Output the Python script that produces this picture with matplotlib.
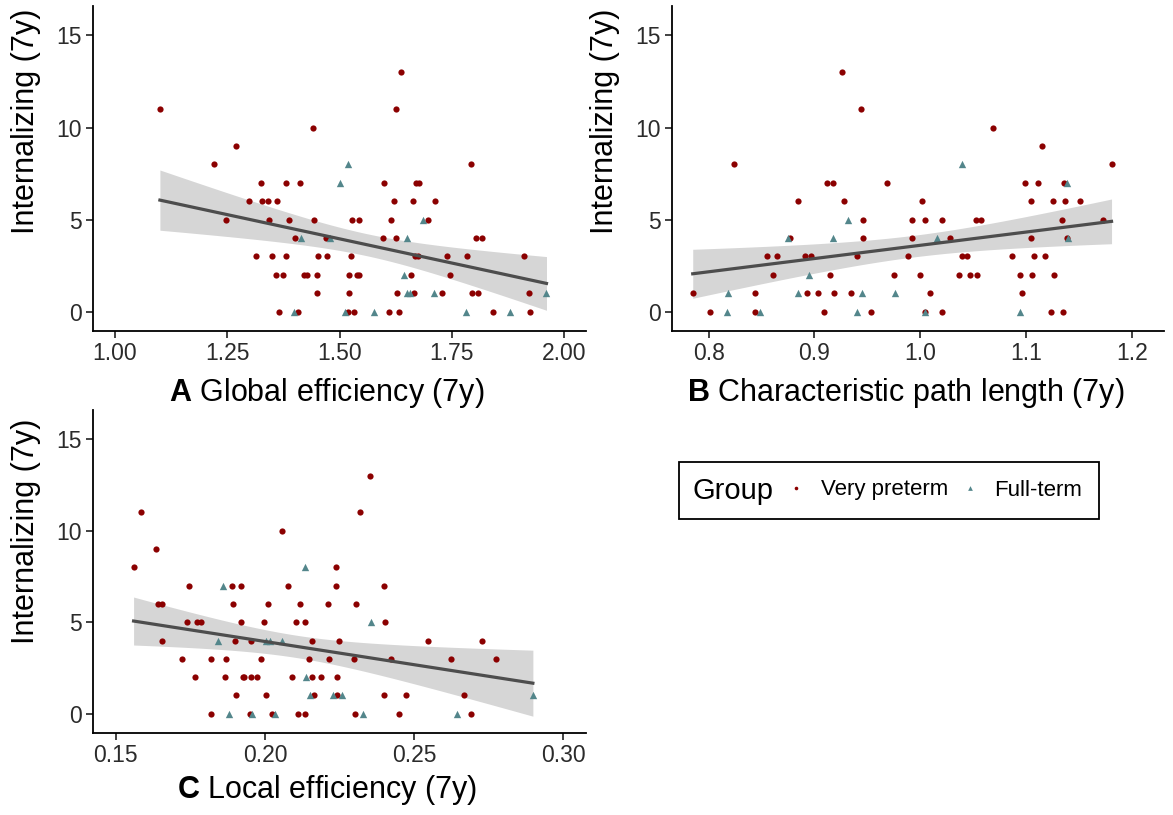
import numpy as np
import matplotlib
matplotlib.use("Agg")
import matplotlib.pyplot as plt
from matplotlib.lines import Line2D
from matplotlib.patches import Rectangle

#########################################
# 1. Data
#########################################

# y values repeat per row, so keep each group as (x, y) lists

# Panel A - Global efficiency
a_vp_x = [1.637,
          1.100, 1.625,
          1.440,
          1.270,
          1.221, 1.793,
          1.325, 1.381, 1.413, 1.600, 1.670, 1.677,
          1.298, 1.328, 1.340, 1.361, 1.622, 1.664, 1.712,
          1.247, 1.342, 1.387, 1.443, 1.527, 1.544, 1.615, 1.698,
          1.400, 1.469, 1.596, 1.625, 1.804, 1.817,
          1.313, 1.349, 1.380, 1.453, 1.473, 1.525, 1.668, 1.674, 1.740, 1.784, 1.911,
          1.359, 1.374, 1.422, 1.428, 1.449, 1.521, 1.538, 1.544, 1.659, 1.745,
          1.450, 1.522, 1.629, 1.665, 1.729, 1.795, 1.809, 1.922,
          1.365, 1.408, 1.518, 1.532, 1.611, 1.633, 1.841, 1.925]
a_vp_y = [13,
          11, 11,
          10,
          9,
          8, 8,
          7, 7, 7, 7, 7, 7,
          6, 6, 6, 6, 6, 6, 6,
          5, 5, 5, 5, 5, 5, 5, 5,
          4, 4, 4, 4, 4, 4,
          3, 3, 3, 3, 3, 3, 3, 3, 3, 3, 3,
          2, 2, 2, 2, 2, 2, 2, 2, 2, 2,
          1, 1, 1, 1, 1, 1, 1, 1,
          0, 0, 0, 0, 0, 0, 0, 0]
a_ft_x = [1.520, 1.501, 1.685, 1.415, 1.478, 1.651, 1.643,
          1.651, 1.657, 1.710, 1.961,
          1.399, 1.513, 1.577, 1.781, 1.879]
a_ft_y = [8, 7, 5, 4, 4, 4, 2,
          1, 1, 1, 1,
          0, 0, 0, 0, 0]

# Panel B - Characteristic path length
b_vp_x = [0.926,
          0.944,
          1.069,
          1.115,
          0.824, 1.181,
          0.912, 0.918, 0.969, 1.099, 1.111, 1.136,
          0.885, 0.928, 1.002, 1.105, 1.126, 1.137, 1.151,
          0.946, 0.992, 1.005, 1.021, 1.053, 1.058, 1.134, 1.173,
          0.877, 0.946, 0.992, 1.028, 1.105, 1.139,
          0.855, 0.865, 0.891, 0.897, 0.940, 0.989, 1.040, 1.044, 1.087, 1.108, 1.118,
          0.861, 0.915, 0.975, 1.000, 1.037, 1.047, 1.054, 1.094, 1.106, 1.127,
          0.785, 0.844, 0.893, 0.903, 0.919, 0.935, 1.009, 1.096,
          0.801, 0.844, 0.909, 0.954, 1.005, 1.021, 1.124, 1.135]
b_vp_y = [13,
          11,
          10,
          9,
          8, 8,
          7, 7, 7, 7, 7, 7,
          6, 6, 6, 6, 6, 6, 6,
          5, 5, 5, 5, 5, 5, 5, 5,
          4, 4, 4, 4, 4, 4,
          3, 3, 3, 3, 3, 3, 3, 3, 3, 3, 3,
          2, 2, 2, 2, 2, 2, 2, 2, 2, 2,
          1, 1, 1, 1, 1, 1, 1, 1,
          0, 0, 0, 0, 0, 0, 0, 0]
b_ft_x = [1.040, 1.139, 0.932, 0.875, 0.918, 1.016, 1.140, 0.895,
          0.818, 0.885, 0.945, 0.976,
          0.817, 0.849, 0.940, 1.005, 1.094]
b_ft_y = [8, 7, 5, 4, 4, 4, 4, 2,
          1, 1, 1, 1,
          0, 0, 0, 0, 0]

# Panel C - Local efficiency
c_vp_x = [0.2351,
          0.1586, 0.2319,
          0.2057,
          0.1634,
          0.1560, 0.2237,
          0.1747, 0.1889, 0.1919, 0.2077, 0.2237, 0.2398,
          0.1643, 0.1656, 0.1893, 0.2010, 0.2116, 0.2210, 0.2306,
          0.1738, 0.1774, 0.1785, 0.1920, 0.1996, 0.2104, 0.2135, 0.2402,
          0.1655, 0.1899, 0.1953, 0.2159, 0.2247, 0.2548, 0.2726,
          0.1722, 0.1819, 0.1869, 0.1987, 0.2149, 0.2214, 0.2299, 0.2423, 0.2624, 0.2774,
          0.1766, 0.1866, 0.1926, 0.1930, 0.1953, 0.1975, 0.2092, 0.2158, 0.2188, 0.2240,
          0.1902, 0.2004, 0.2165, 0.2240, 0.2398, 0.2474, 0.2667,
          0.1819, 0.1949, 0.2025, 0.2112, 0.2135, 0.2303, 0.2450, 0.2691]
c_vp_y = [13,
          11, 11,
          10,
          9,
          8, 8,
          7, 7, 7, 7, 7, 7,
          6, 6, 6, 6, 6, 6, 6,
          5, 5, 5, 5, 5, 5, 5, 5,
          4, 4, 4, 4, 4, 4, 4,
          3, 3, 3, 3, 3, 3, 3, 3, 3, 3,
          2, 2, 2, 2, 2, 2, 2, 2, 2, 2,
          1, 1, 1, 1, 1, 1, 1,
          0, 0, 0, 0, 0, 0, 0, 0]
c_ft_x = [0.2134, 0.1860, 0.2357, 0.1844, 0.2003, 0.2018, 0.2058, 0.2138,
          0.2151, 0.2228, 0.2257, 0.2898,
          0.1879, 0.1956, 0.2035, 0.2328, 0.2643]
c_ft_y = [8, 7, 5, 4, 4, 4, 4, 2,
          1, 1, 1, 1,
          0, 0, 0, 0, 0]

y_ticks = [0, 5, 10, 15]
a_ticks = [1.00, 1.25, 1.50, 1.75, 2.00]
b_ticks = [0.8, 0.9, 1.0, 1.1, 1.2]
c_ticks = [0.15, 0.20, 0.25, 0.30]

group_labels = ["Very preterm", "Full-term"]
vp_color = "#8B0000"
ft_color = "#53868B"

#########################################
# 2. Style
#########################################

plt.rcParams["font.family"] = ["Liberation Sans", "DejaVu Sans"]
plt.rcParams["mathtext.fontset"] = "custom"
plt.rcParams["mathtext.bf"] = "Liberation Sans:bold"
plt.rcParams["mathtext.rm"] = "Liberation Sans"

W, H = 1173, 815
fig = plt.figure(figsize=(W / 100, H / 100), dpi=100)


def px_box(left, right, top, bottom):
    return [left / W, 1 - bottom / H, (right - left) / W, (bottom - top) / H]


#########################################
# 3. Panel helper
#########################################

def panel(box, vx, vy, fx, fy, xlim, xticks, xfmt, letter, xlabel, label_y):
    ax = fig.add_axes(box)
    x_all = np.array(vx + fx, dtype=float)
    y_all = np.array(vy + fy, dtype=float)

    # linear fit with 95% confidence band
    n = len(x_all)
    slope, intercept = np.polyfit(x_all, y_all, 1)
    resid = y_all - (slope * x_all + intercept)
    s = np.sqrt(np.sum(resid ** 2) / (n - 2))
    xbar = x_all.mean()
    sxx = np.sum((x_all - xbar) ** 2)
    xs = np.linspace(x_all.min(), x_all.max(), 100)
    yhat = slope * xs + intercept
    se = s * np.sqrt(1 / n + (xs - xbar) ** 2 / sxx)
    t = 1.99
    ax.fill_between(xs, yhat - t * se, yhat + t * se, color="#999999",
                    alpha=0.4, linewidth=0, zorder=1)

    ax.scatter(vx, vy, s=20, marker="o", color=vp_color, linewidths=0, zorder=3)
    ax.scatter(fx, fy, s=28, marker="^", color=ft_color, linewidths=0, zorder=3)
    ax.plot(xs, yhat, color="#4D4D4D", linewidth=2.3, zorder=4)

    ax.set_xlim(*xlim)
    ax.set_ylim(-1.05, 16.6)
    ax.set_xticks(xticks)
    ax.set_xticklabels([xfmt.format(v) for v in xticks])
    ax.set_yticks(y_ticks)
    for side in ["top", "right"]:
        ax.spines[side].set_visible(False)
    for side in ["left", "bottom"]:
        ax.spines[side].set_linewidth(1.3)
        ax.spines[side].set_color("black")
    ax.tick_params(length=5, width=1.3, color="#333333", labelsize=16.5,
                   labelcolor="#2b2b2b", pad=3)
    ax.set_xlabel(r"$\mathbf{" + letter + "}$" + xlabel, fontsize=22,
                  color="black")
    ax.xaxis.set_label_coords(0.475, label_y, transform=ax.transAxes)
    ax.xaxis.label.set_va("top")
    return ax


ax_a = panel(px_box(93, 586, 6, 331), a_vp_x, a_vp_y, a_ft_x, a_ft_y,
             (0.951, 2.049), a_ticks, "{:.2f}", "A", " Global efficiency (7y)", -0.14)
ax_b = panel(px_box(672, 1164, 6, 331), b_vp_x, b_vp_y, b_ft_x, b_ft_y,
             (0.7654, 1.2306), b_ticks, "{:.1f}", "B", " Characteristic path length (7y)", -0.14)
ax_c = panel(px_box(93, 586, 410, 733), c_vp_x, c_vp_y, c_ft_x, c_ft_y,
             (0.1424, 0.3076), c_ticks, "{:.2f}", "C", " Local efficiency (7y)", -0.125)

# y labels (placed like the reference, a bit above axis centre)
for xp, yp in [(26, 121), (605, 121), (26, 531)]:
    fig.text(xp / W, 1 - yp / H, "Internalizing (7y)", rotation=90,
             ha="center", va="center", fontsize=22, color="black")

#########################################
# 4. Legend
#########################################

fig.patches.append(Rectangle((679 / W, 1 - 519 / H), (1099 - 679) / W, (519 - 462) / H,
                             transform=fig.transFigure, fill=False,
                             edgecolor="black", linewidth=1.3))
fig.text(693 / W, 1 - 491 / H, "Group", fontsize=21, ha="left", va="center")
handles = [Line2D([], [], linestyle="none", marker="o", markersize=2.6,
                  markerfacecolor=vp_color, markeredgewidth=0),
           Line2D([], [], linestyle="none", marker="^", markersize=3.4,
                  markerfacecolor=ft_color, markeredgewidth=0)]
fig.legend(handles, group_labels, ncol=2, frameon=False, fontsize=16,
           loc="center left", bbox_to_anchor=(785 / W, 1 - 490 / H),
           handlelength=1.0, handletextpad=0.6, columnspacing=0.5,
           borderaxespad=0, borderpad=0)

fig.savefig("out.png", dpi=100)
